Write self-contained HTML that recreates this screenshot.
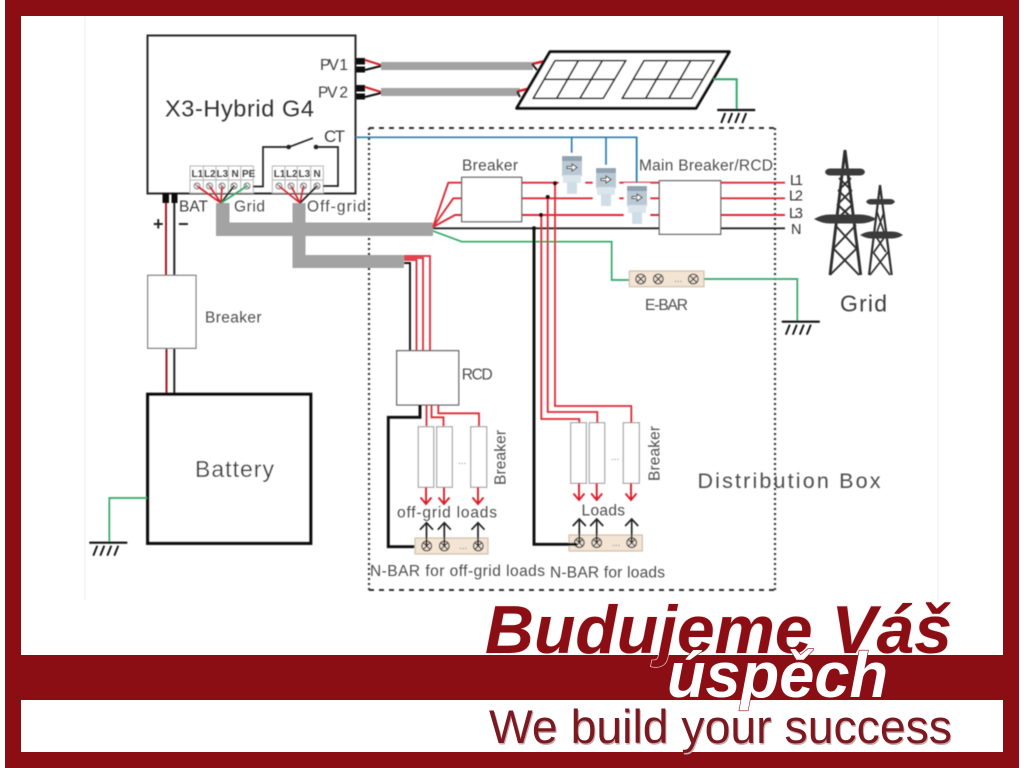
<!DOCTYPE html>
<html lang="en">
<head>
<meta charset="utf-8">
<title>X3-Hybrid G4 wiring diagram</title>
<style>
html,body{margin:0;padding:0;background:#fff;width:1024px;height:768px;overflow:hidden}
svg{display:block;font-family:"Liberation Sans",sans-serif}
.t{fill:#4d4d4d;font-size:15.5px}
.d{fill:#3d3d3d;font-size:15.5px}
.tb{fill:#444;font-size:10px;font-weight:bold}
</style>
</head>
<body>
<svg width="1024" height="768" viewBox="0 0 1024 768" xmlns="http://www.w3.org/2000/svg">
<defs>
<filter id="b" x="-5%" y="-5%" width="110%" height="110%"><feGaussianBlur stdDeviation="0.45"/></filter>
<g id="gnd" fill="none" stroke="#111" stroke-width="1.900">
<path d="M-19 0H19" stroke-width="2.200"/>
<path d="M-11 3L-15 13M-4 3L-8 13M3 3L-1 13M10 3L6 13"/>
</g>
<g id="x" fill="none" stroke="#444" stroke-width="1.200">
<circle r="4.800"/><path d="M-3.300 -3.300L3.300 3.300M-3.300 3.300L3.300 -3.300"/>
</g>
<g id="tc" fill="none" stroke="#777" stroke-width="0.900">
<circle r="3" fill="#eee"/><path d="M-2 -2L2 2"/>
</g>
<g id="up" fill="none" stroke="#222" stroke-width="1.700"><path d="M0 0V-24M-6.500 -17L0 -24L6.500 -17"/></g>
<g id="dn" fill="none" stroke="#dc1f2a" stroke-width="1.900"><path d="M0 0V17M-5.500 10.500L0 17L5.500 10.500"/></g>
<g id="ct">
<rect x="-13" y="-3" width="26" height="43" fill="#fff"/>
<rect x="-10" y="0" width="20" height="21" rx="2" fill="#b9c8d2"/>
<rect x="-10" y="0" width="20" height="5" fill="#8fa3b0"/>
<rect x="-9" y="19" width="18" height="8" fill="#dbe5ec"/>
<rect x="-5" y="26" width="10" height="12" fill="#cfdde7"/>
<path d="M-5 10.500H0V8L5 11.500L0 15V12.500H-5Z" fill="#fff" stroke="#222" stroke-width="0.900"/>
</g>
</defs>

<rect width="1024" height="768" fill="#fff"/>
<rect x="5" y="0" width="1014" height="768" fill="#8b0e14"/>
<rect x="21" y="16" width="982" height="639" fill="#fff"/>
<rect x="21" y="700" width="982" height="52" fill="#fff"/>
<path d="M85 16V600M938 16V600" stroke="#efefef" stroke-width="1.200"/>

<g filter="url(#b)">
<!-- distribution box -->
<path d="M369 128H775M369 590H775" fill="none" stroke="#333" stroke-width="2" stroke-dasharray="5 5"/>
<path d="M369 128V590M775 128V590" fill="none" stroke="#333" stroke-width="2.200" stroke-dasharray="2 3"/>

<!-- gray cable bands -->
<path d="M381 62H533V70H381ZM381 88H520V96H381Z" fill="#a3a3a3"/>
<path d="M216 203H229.500V222.500H292.500V203H305.500V222.500H433V236H305.500V255H404V268H292.500V236H216Z" fill="#a3a3a3"/>

<!-- inverter -->
<rect x="147.500" y="35.500" width="208" height="158" fill="none" stroke="#2a2a2a" stroke-width="2"/>
<path d="M356 58h9v6.500h-9zM356 66.500h9v6h-9zM356 85h9v6.500h-9zM356 93.500h9v6h-9z" fill="#111"/>
<path d="M365 60L381 65M365 87L381 92" stroke="#d3202a" stroke-width="2.100" fill="none"/>
<path d="M365 70L381 66M365 97L381 93" stroke="#111" stroke-width="2.100" fill="none"/>
<text class="d" x="320" y="70" textLength="28">PV 1</text>
<text class="d" x="318" y="97.500" textLength="30">PV 2</text>
<text x="165" y="116.500" font-size="23.500" fill="#333" textLength="149">X3-Hybrid G4</text>
<text x="324" y="142" font-size="17" fill="#3d3d3d" textLength="21">CT</text>

<!-- terminals -->
<g fill="none" stroke="#b5b5b5" stroke-width="1">
<rect x="190" y="166" width="63.300" height="27"/><path d="M190 180H253.300M203.300 166V193M216 166V193M228.300 166V193M240.700 166V193"/>
<rect x="272.300" y="166" width="51" height="27"/><path d="M272.300 180H323.300M285 166V193M297.300 166V193M310.700 166V193"/>
</g>
<g class="tb">
<text class="tb" x="191.500" y="177">L1</text><text class="tb" x="204" y="177">L2</text><text class="tb" x="216.500" y="177">L3</text><text class="tb" x="231.500" y="177">N</text><text class="tb" x="242" y="177">PE</text>
<text class="tb" x="273.800" y="177">L1</text><text class="tb" x="286" y="177">L2</text><text class="tb" x="298.500" y="177">L3</text><text class="tb" x="313.500" y="177">N</text>
</g>
<use href="#tc" x="197" y="186"/><use href="#tc" x="209.500" y="186"/><use href="#tc" x="222" y="186"/><use href="#tc" x="234" y="186"/><use href="#tc" x="247" y="186"/>
<use href="#tc" x="279" y="186"/><use href="#tc" x="291" y="186"/><use href="#tc" x="303.500" y="186"/><use href="#tc" x="317" y="186"/>
<g fill="none" stroke-width="1.700">
<path d="M197 186L221 203M209.500 186L221 203M222 186L221 203M279 186L300 203M291 186L300 203M303.500 186L300 203" stroke="#d3202a"/>
<path d="M234 186L221 203M317 186L300 203" stroke="#222"/>
<path d="M247 186L221 203" stroke="#2fa866"/>
<path d="M253 186.500H263V147H289L313 138M316 147H338V186H323" stroke="#222"/>
</g>
<circle cx="288.700" cy="147" r="2.300" fill="#222"/><circle cx="316" cy="147" r="2.300" fill="#222"/>

<!-- battery side -->
<path d="M162.500 193h6.500v10h-6.500zM171.500 193h6v10h-6z" fill="#111"/>
<path d="M166 203V275M166.500 348V394" stroke="#a5181f" stroke-width="2" fill="none"/>
<path d="M174.300 203V275M174.300 348V394" stroke="#222" stroke-width="2" fill="none"/>
<text class="d" x="179" y="211.500" textLength="29">BAT</text>
<text x="234" y="211.500" class="t" textLength="31">Grid</text>
<text x="307" y="211.500" class="t" textLength="59">Off-grid</text>
<text x="153" y="230" font-size="18" font-weight="bold" fill="#222">+</text>
<text x="178" y="230" font-size="18" font-weight="bold" fill="#222">−</text>
<rect x="147.700" y="275.300" width="48.300" height="73" fill="#fff" stroke="#777" stroke-width="1.200"/>
<text class="t" x="205" y="322.500" textLength="56.500">Breaker</text>
<rect x="147.700" y="394.300" width="163" height="149" fill="#fff" stroke="#111" stroke-width="3.300"/>
<text x="195" y="477" font-size="23" fill="#3d3d3d" textLength="79">Battery</text>
<path d="M147 498H109.300V542.700" fill="none" stroke="#2fa866" stroke-width="1.700"/>
<use href="#gnd" x="108.300" y="542.700"/>

<!-- solar panel -->
<path d="M532 64L545 61M517 91.500L527 89" stroke="#d3202a" stroke-width="2.500" fill="none"/>
<path d="M532 64L537 70M517 91.500L520 97" stroke="#111" stroke-width="1.900" fill="none"/>
<path d="M550 51.700H729.300L696 108.300H516.700Z" fill="#fff" stroke="#111" stroke-width="3" stroke-linejoin="round"/>
<g fill="none" stroke="#1c1c1c" stroke-width="1.700">
<path d="M555 60.700H625.700L603.300 98.300H533.300ZM544 79.300H614.500M578.300 60.700L556.700 98.300M602.300 60.700L580 98.300"/>
<path d="M644 60.700H714L691.700 98.300H622.300ZM633 79.300H703M667.300 60.700L645.700 98.300M690.700 60.700L669 98.300"/>
</g>
<path d="M713.300 79.300H736.700V110" fill="none" stroke="#2fa866" stroke-width="2"/>
<use href="#gnd" x="736.200" y="110"/>

<!-- CT blue -->
<path d="M355.500 137.300H636.700V183M571.700 137.300V157M606 137.300V169" fill="none" stroke="#2c7fb0" stroke-width="1.700"/>

<!-- grid lines -->
<g fill="none" stroke-width="1.900" stroke="#dc2a35">
<path d="M433 227L448.300 182.700H461.700M433 227L453.300 198.300H461.700M433 227L455 215H461.700"/>
<path d="M521.700 182.700H659.300M521.700 198.300H659.300M521.700 215H659.300"/>
<path d="M720.700 182.700H785M720.700 198.300H785M720.700 215H785"/>
</g>
<path d="M433 228.300H659.300M720.700 228.300H785" fill="none" stroke="#222" stroke-width="1.900"/>
<path d="M433 231L461.700 241.700H611.700V280H629.300" fill="none" stroke="#2fa866" stroke-width="1.700"/>
<rect x="461.700" y="177.300" width="60" height="44.400" fill="#fff" stroke="#555" stroke-width="1.200"/>
<text class="t" x="462" y="170.700" textLength="56">Breaker</text>
<use href="#ct" x="572" y="156"/>
<use href="#ct" x="606" y="168"/>
<path d="M636.700 137.300V186" fill="none" stroke="#2c7fb0" stroke-width="1.700"/>
<use href="#ct" x="637" y="186"/>
<rect x="659.300" y="180.700" width="61.400" height="53.600" fill="#fff" stroke="#555" stroke-width="1.200"/>
<text class="t" x="639" y="170.700" textLength="134">Main Breaker/RCD</text>
<g fill="#333" font-size="14.500">
<text x="790" y="185" textLength="13">L1</text>
<text x="789" y="200.700" textLength="14">L2</text>
<text x="789" y="218" textLength="14">L3</text>
<text x="791" y="234">N</text>
</g>

<!-- E-BAR -->
<rect x="629.300" y="271" width="74.700" height="15.700" fill="#f3e4d3" stroke="#cfc0ab" stroke-width="1.200"/>
<use href="#x" x="640.700" y="279"/><use href="#x" x="658.300" y="279"/><use href="#x" x="693.300" y="279"/>
<text x="674" y="282" font-size="10" fill="#666">...</text>
<text class="t" x="645" y="310" textLength="43">E-BAR</text>
<path d="M704 279H797.300V321.700" fill="none" stroke="#2fa866" stroke-width="1.700"/>
<use href="#gnd" x="800.800" y="321.700"/>

<!-- off-grid branch -->
<g fill="none" stroke-width="1.800" stroke="#dc2a35">
<path d="M404 256H430V351M404 258H423V351M404 260H416.500V351"/>
<path d="M426.500 405V427M431.500 405V417.300H443.500V427M438.300 405V413.300H479V427"/>
</g>
<path d="M404 263H410V351" fill="none" stroke="#111" stroke-width="1.900"/>
<rect x="396.700" y="350.700" width="62" height="54.300" fill="#fff" stroke="#555" stroke-width="1.200"/>
<text class="t" x="461.700" y="379.500" textLength="31">RCD</text>
<path d="M420 405V417.300H388.300V546.700H415" fill="none" stroke="#111" stroke-width="2.900"/>
<g fill="#fff" stroke="#a5a5a5" stroke-width="1.200">
<rect x="418.300" y="426.700" width="15.400" height="60.600"/>
<rect x="436.700" y="426.700" width="15.600" height="60.600"/>
<rect x="470.700" y="426.700" width="16" height="60.600"/>
<rect x="570.700" y="422.700" width="15.600" height="60.600"/>
<rect x="589.300" y="422.700" width="15.400" height="60.600"/>
<rect x="623.300" y="422.700" width="16" height="60.600"/>
</g>
<text x="458" y="464" font-size="10" fill="#888">...</text>
<text x="611" y="460" font-size="10" fill="#888">...</text>
<text class="t" transform="translate(505.500 485) rotate(-90)" textLength="55">Breaker</text>
<text class="t" transform="translate(659.500 481) rotate(-90)" textLength="55">Breaker</text>
<use href="#dn" x="426" y="487"/><use href="#dn" x="444" y="487"/><use href="#dn" x="478" y="487"/>
<use href="#dn" x="579" y="483"/><use href="#dn" x="596.700" y="483"/><use href="#dn" x="631" y="483"/>
<text class="t" x="397" y="517.500" textLength="100">off-grid loads</text>
<text class="t" x="581.500" y="515.500" textLength="43.500">Loads</text>
<rect x="415" y="538" width="73" height="16" fill="#f3e4d3" stroke="#cfc0ab" stroke-width="1.200"/>
<rect x="569" y="535" width="73.300" height="16" fill="#f3e4d3" stroke="#cfc0ab" stroke-width="1.200"/>
<use href="#x" x="426.700" y="546"/><use href="#x" x="444.300" y="546"/><use href="#x" x="478.300" y="546"/>
<use href="#x" x="579.300" y="542.700"/><use href="#x" x="596.700" y="542.700"/><use href="#x" x="631.700" y="542.700"/>
<text x="459" y="549" font-size="10" fill="#666">...</text>
<text x="612" y="546" font-size="10" fill="#666">...</text>
<use href="#up" x="426.500" y="546.700"/><use href="#up" x="444.300" y="546.700"/><use href="#up" x="478" y="546.700"/>
<use href="#up" x="579.300" y="543"/><use href="#up" x="596.700" y="543"/><use href="#up" x="631.700" y="543"/>
<text class="t" x="370" y="576" textLength="175">N-BAR for off-grid loads</text>
<text class="t" x="550" y="577.500" textLength="115">N-BAR for loads</text>

<!-- loads branch -->
<g fill="none" stroke="#dc2a35" stroke-width="1.800">
<path d="M555 183V406H631.300V423M547.700 198V412H597.300V423M541.300 215V419H579.300V423"/>
</g>
<path d="M534 228V544.300H577" fill="none" stroke="#111" stroke-width="2.900"/>
<circle cx="555" cy="183.300" r="2" fill="#111"/><circle cx="547.700" cy="197" r="2" fill="#111"/><circle cx="541" cy="215" r="2" fill="#111"/><circle cx="534" cy="228.300" r="2" fill="#111"/>

<text x="697.500" y="488" font-size="21.500" fill="#4d4d4d" textLength="183">Distribution Box</text>

<!-- towers -->
<g fill="none" stroke="#2e2e2e" stroke-width="2.200">
<path d="M845 150L830 275M845 150L860.700 275" stroke-width="2.900"/>
<path d="M839 178L851 190M851 178L839 190M838 190L852 204M852 190L838 204M837 204L853 219M853 204L837 219M835 225L856 248M856 225L834 248M833 248L859 275M857 248L830 275" stroke-width="1.900"/>
<path d="M880 185L869 275M880 185L891.700 275" stroke-width="2.200"/>
<path d="M875 235L886 252M886 235L874 252M873 252L890 275M888 252L870 275M877 212L884 232M884 212L877 232" stroke-width="1.700"/>
</g>
<g fill="#3a3a3a">
<path d="M825 172Q826 168.500 830 168.500H860Q864 168.500 865 172Q864 175.500 860 175.500H830Q826 175.500 825 172Z"/>
<path d="M814 219Q822 214.500 830 214.500H860Q868 214.500 877 219Q868 223.500 860 223.500H830Q822 223.500 814 219Z"/>
<path d="M866 201.700Q868 199 871 199H890Q893 199 895 201.700Q893 204.500 890 204.500H871Q868 204.500 866 201.700Z"/>
<path d="M860 235Q866 231.500 871 231.500H892Q898 231.500 903 235Q898 238.500 892 238.500H871Q866 238.500 860 235Z"/>
</g>
<text x="840" y="311.500" font-size="23" fill="#3d3d3d" textLength="47">Grid</text>
</g>

<!-- slogan -->
<rect x="5" y="655" width="1014" height="45" fill="#8b0e14"/>
<text x="485" y="653" font-size="68" font-weight="bold" font-style="italic" fill="#8b0e14" stroke="#f4dede" stroke-width="1.200" paint-order="stroke" textLength="467" lengthAdjust="spacingAndGlyphs">Budujeme Váš</text>
<text x="667" y="697" font-size="64" font-weight="bold" font-style="italic" fill="#fff" stroke="#8b0e14" stroke-width="1.200" paint-order="stroke" textLength="221" lengthAdjust="spacingAndGlyphs">úspěch</text>
<text x="490" y="744.500" font-size="47" fill="#c9a9ab" textLength="463" lengthAdjust="spacingAndGlyphs">We build your success</text>
<text x="489" y="743" font-size="47" fill="#7a1a20" textLength="463" lengthAdjust="spacingAndGlyphs">We build your success</text>
</svg>
</body>
</html>
